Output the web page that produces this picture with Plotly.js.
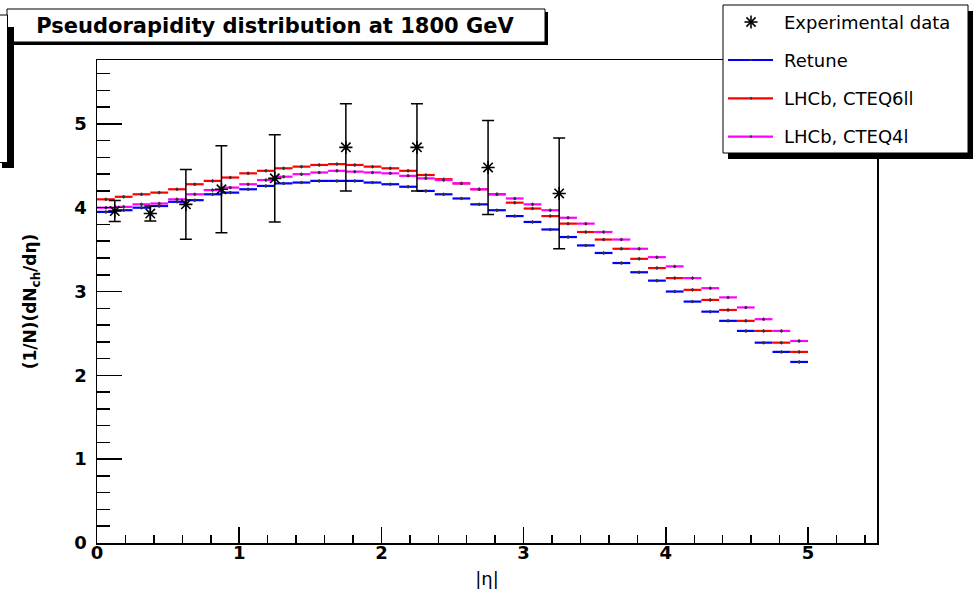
<!DOCTYPE html>
<html>
<head>
<meta charset="utf-8">
<script src="https://cdn.plot.ly/plotly-3.0.1.min.js"></script>
<style>
html,body{margin:0;padding:0;background:#ffffff;}
#chart{width:978px;height:595px;}
</style>
</head>
<body>
<div id="chart"></div>
<script>
// ---------------- data ----------------
const binWidth = 0.125;            // histogram bin width in |eta|
const retune = [3.95, 3.97, 4.00, 4.02, 4.07, 4.09, 4.16, 4.18, 4.22, 4.26,
                4.29, 4.30, 4.32, 4.32, 4.32, 4.30, 4.28, 4.25, 4.20, 4.16,
                4.11, 4.04, 3.97, 3.90, 3.83, 3.74, 3.65, 3.55, 3.46, 3.34,
                3.23, 3.13, 3.00, 2.88, 2.76, 2.65, 2.53, 2.39, 2.28, 2.16];
const cteq6ll = [4.10, 4.13, 4.16, 4.18, 4.22, 4.28, 4.32, 4.36, 4.41, 4.44,
                 4.47, 4.49, 4.51, 4.52, 4.51, 4.49, 4.47, 4.44, 4.39, 4.34,
                 4.29, 4.22, 4.16, 4.06, 3.99, 3.90, 3.81, 3.71, 3.62, 3.51,
                 3.39, 3.28, 3.16, 3.02, 2.90, 2.78, 2.65, 2.53, 2.39, 2.28];
const cteq4l = [4.00, 4.01, 4.04, 4.05, 4.10, 4.16, 4.21, 4.24, 4.28, 4.33,
                4.37, 4.40, 4.42, 4.44, 4.43, 4.42, 4.41, 4.38, 4.35, 4.33,
                4.29, 4.22, 4.16, 4.11, 4.04, 3.97, 3.88, 3.81, 3.71, 3.62,
                3.51, 3.41, 3.30, 3.16, 3.04, 2.93, 2.81, 2.67, 2.53, 2.41];
const histErr = 0.02;
const dataEta = [0.125, 0.375, 0.625, 0.875, 1.25, 1.75, 2.25, 2.75, 3.25];
const dataVal = [3.96, 3.93, 4.04, 4.22, 4.35, 4.72, 4.72, 4.48, 4.17];
const dataErr = [0.125, 0.09, 0.415, 0.52, 0.52, 0.52, 0.52, 0.56, 0.66];
const seriesNames = ["Experimental data", "Retune", "LHCb, CTEQ6ll", "LHCb, CTEQ4l"];
const seriesColors = ["#000000", "#0000ff", "#ff0000", "#ff00ff"];
const xTickVals = [0, 1, 2, 3, 4, 5];
const yTickVals = [0, 1, 2, 3, 4, 5];
const titleText = "Pseudorapidity distribution at 1800 GeV";

// ---------------- geometry helpers (pixel -> paper) ----------------
const L = 97, R = 877, T = 60, B = 543;
const PW = R - L, PH = B - T;
const fx = x => (x - L) / PW;
const fy = y => (B - y) / PH;

const binCenters = retune.map((_, i) => binWidth * (i + 0.5));

function histTrace(vals, name, color) {
  return {
    type: 'scatter', mode: 'markers', name: name, showlegend: false,
    x: binCenters, y: vals,
    marker: {size: 3, color: '#333333'},
    error_x: {type: 'constant', value: binWidth / 2, width: 0, thickness: 2.2, color: color},
    error_y: {type: 'constant', value: histErr, width: 0, thickness: 1, color: '#333333'},
    hoverinfo: 'x+y+name'
  };
}

const traces = [
  histTrace(retune, seriesNames[1], seriesColors[1]),
  histTrace(cteq6ll, seriesNames[2], seriesColors[2]),
  histTrace(cteq4l, seriesNames[3], seriesColors[3]),
  {
    type: 'scatter', mode: 'markers', name: seriesNames[0], showlegend: false,
    x: dataEta, y: dataVal,
    marker: {symbol: 'asterisk-open', size: 11, color: '#000', line: {color: '#000', width: 1.6}},
    error_y: {type: 'data', array: dataErr, visible: true, width: 6, thickness: 1.5, color: '#000'}
  }
];

// ---------------- boxes (title, legend, side pave) ----------------
function rect(x0, y0, x1, y1, fill, lw) {
  return {type: 'rect', xref: 'paper', yref: 'paper', layer: 'above',
          x0: fx(x0), x1: fx(x1), y0: fy(y1), y1: fy(y0),
          fillcolor: fill, line: {color: '#000', width: lw}};
}
function seg(x0, y0, x1, y1, color, w) {
  return {type: 'line', xref: 'paper', yref: 'paper', layer: 'above',
          x0: fx(x0), x1: fx(x1), y0: fy(y0), y1: fy(y1),
          line: {color: color, width: w}};
}

const shapes = [];
// title pave
shapes.push(rect(10, 12, 548, 45, '#000', 0));
shapes.push(rect(7, 9, 545, 42, '#fff', 1));
// partial pave at left edge
shapes.push(rect(2, 27, 14, 168, '#000', 0));
shapes.push(rect(-10, 15, 7.5, 162.5, '#fff', 1));
// legend pave
const LX0 = 723, LY0 = 5, LX1 = 968, LY1 = 153;
shapes.push(rect(LX0 + 5, LY0 + 6, LX1 + 5, LY1 + 6, '#000', 0));
shapes.push(rect(LX0, LY0, LX1, LY1, '#fff', 1));

const rowY = [22, 60, 98.3, 136.7];
const symX = 751;
// asterisk sample for experimental data
const a = 6.5, d = a * 0.707;
shapes.push(seg(symX - a, rowY[0], symX + a, rowY[0], '#000', 1.6));
shapes.push(seg(symX, rowY[0] - a, symX, rowY[0] + a, '#000', 1.6));
shapes.push(seg(symX - d, rowY[0] - d, symX + d, rowY[0] + d, '#000', 1.6));
shapes.push(seg(symX - d, rowY[0] + d, symX + d, rowY[0] - d, '#000', 1.6));
// line samples
for (let i = 1; i < 4; i++) {
  shapes.push(seg(728, rowY[i], 773, rowY[i], seriesColors[i], 2.2));
  shapes.push(seg(symX - 1, rowY[i], symX + 1, rowY[i], '#333', 2.2));
}

const annotations = [];
for (let i = 0; i < 4; i++) {
  annotations.push({
    xref: 'paper', yref: 'paper', x: fx(782), y: fy(rowY[i]),
    xanchor: 'left', yanchor: 'middle', showarrow: false,
    text: seriesNames[i],
    font: {family: 'DejaVu Sans', size: 18, color: '#000'}
  });
}

const tickFont = {family: 'DejaVu Sans', size: 18, color: '#000', weight: 'bold'};

const layout = {
  width: 978, height: 595,
  margin: {l: L, r: 978 - R, t: T, b: 595 - B, pad: 0},
  paper_bgcolor: '#fff', plot_bgcolor: '#fff',
  showlegend: false,
  title: {
    text: titleText,
    font: {family: 'DejaVu Sans', size: 21, color: '#000', weight: 'bold'},
    xref: 'container', yref: 'container',
    x: 275 / 978, xanchor: 'center',
    y: 1 - 26 / 595, yanchor: 'middle'
  },
  xaxis: {
    range: [0, 5.485], autorange: false,
    tickmode: 'array', tickvals: xTickVals, ticktext: xTickVals.map(String),
    ticks: 'inside', ticklen: 16, tickwidth: 1.5, tickcolor: '#000',
    ticklabelstandoff: -7,
    minor: {dtick: 0.2, tick0: 0, ticks: 'inside', ticklen: 8, tickwidth: 1.5, tickcolor: '#000', showgrid: false},
    showline: true, linecolor: '#000', linewidth: 1.5, mirror: true,
    showgrid: false, zeroline: false,
    tickfont: tickFont,
    title: {text: '|η|', font: {family: 'DejaVu Sans', size: 18, color: '#000'}, standoff: 10}
  },
  yaxis: {
    range: [0, 5.762], autorange: false,
    tickmode: 'array', tickvals: yTickVals, ticktext: yTickVals.map(String),
    ticks: 'inside', ticklen: 25, tickwidth: 1.5, tickcolor: '#000',
    ticklabelstandoff: 5,
    minor: {dtick: 0.2, tick0: 0, ticks: 'inside', ticklen: 13, tickwidth: 1.5, tickcolor: '#000', showgrid: false},
    showline: true, linecolor: '#000', linewidth: 1.5, mirror: true,
    showgrid: false, zeroline: false,
    tickfont: tickFont,
    title: {text: '(1/N)(dN<sub>ch</sub>/dη)', font: {family: 'DejaVu Sans', size: 17, color: '#000', weight: 'bold'}, standoff: 33}
  },
  shapes: shapes,
  annotations: annotations
};

Plotly.newPlot('chart', traces, layout, {displayModeBar: false, staticPlot: true});
</script>
</body>
</html>
